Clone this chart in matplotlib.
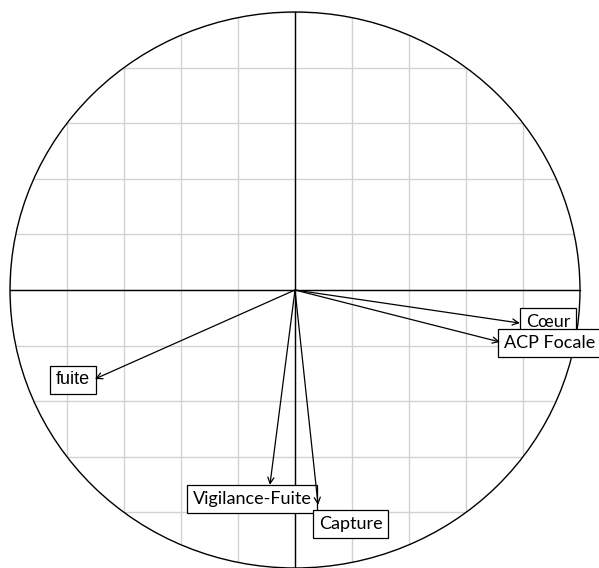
import numpy as np
import matplotlib.pyplot as plt
from matplotlib.patches import Ellipse

# correlations of each variable with the two first axes
names = ["Cœur", "ACP Focale", "fuite", "Vigilance-Fuite", "Capture"]
axis1 = [0.789, 0.719, -0.702, -0.088, 0.081]
axis2 = [-0.119, -0.187, -0.320, -0.701, -0.773]

# label placement relative to arrow tip: ha, va, offset in pixels
label_pos = {
    "Cœur": ("left", "center", 6, 1),
    "ACP Focale": ("left", "center", 4, -1),
    "fuite": ("right", "center", -5, -1),
    "Vigilance-Fuite": ("center", "top", -18, -6),
    "Capture": ("left", "top", 1, -11),
}

fig = plt.figure(figsize=(5.99, 5.68), dpi=100)
ax = fig.add_axes([0, 0, 1, 1])
ax.set_xlim(-1.0351, 1.0667)
ax.set_ylim(-1.0, 1.0432)
ax.axis("off")

circle = Ellipse((0, 0), 2, 2, fill=False, edgecolor="black", lw=1.0, zorder=3)
ax.add_patch(circle)

# grid inside the circle
ticks = np.arange(-1.0, 1.01, 0.2)
for t in ticks:
    l1, = ax.plot([t, t], [-1, 1], color="#d2d2d2", lw=1.0, zorder=1)
    l2, = ax.plot([-1, 1], [t, t], color="#d2d2d2", lw=1.0, zorder=1)
    l1.set_clip_path(circle)
    l2.set_clip_path(circle)

ax.plot([-1, 1], [0, 0], color="black", lw=1.0, zorder=2)
ax.plot([0, 0], [-1, 1], color="black", lw=1.0, zorder=2)

for name, x, y in zip(names, axis1, axis2):
    ax.annotate("", xy=(x, y), xytext=(0, 0),
                arrowprops=dict(arrowstyle="->", lw=0.9, color="black",
                                shrinkA=0, shrinkB=0, mutation_scale=11),
                zorder=6)
    ha, va, dx, dy = label_pos[name]
    family = ["Liberation Sans"] if name == "fuite" else ["Lato", "DejaVu Sans"]
    ax.annotate(name, xy=(x, y), xytext=(dx * 0.72, dy * 0.72),
                textcoords="offset points", ha=ha, va=va, fontsize=13,
                family=family, zorder=5,
                bbox=dict(boxstyle="square,pad=0.32", fc="white", ec="black", lw=0.9))

fig.savefig("out.png", dpi=100)
